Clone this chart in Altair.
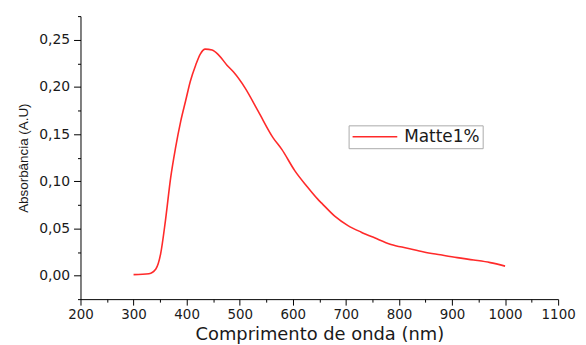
import altair as alt
import pandas as pd

wavelength = [300, 329, 342, 351, 360, 370, 379, 389, 398, 407, 417, 426, 435, 448, 460, 476, 488,
              510, 535, 563, 579, 604, 626, 647, 654, 679, 704, 729, 754, 785, 816, 847, 878, 910,
              941, 972, 1000]
absorb = [0.001, 0.002, 0.007, 0.023, 0.058, 0.104, 0.135, 0.164, 0.185, 0.206, 0.223, 0.235, 0.240,
          0.239, 0.234, 0.223, 0.216, 0.199, 0.174, 0.146, 0.134, 0.111, 0.095, 0.081, 0.077, 0.063,
          0.053, 0.046, 0.040, 0.033, 0.029, 0.025, 0.022, 0.019, 0.0165, 0.0137, 0.0100]
series = ["Matte1%"] * len(wavelength)

x_ticks = list(range(200, 1101, 50))
y_ticks = [round(-0.025 + 0.025 * i, 3) for i in range(13)]

df = pd.DataFrame({"x": wavelength, "y": absorb, "s": series})

FONT = "DejaVu Sans"
RED = "#FF2A2A"

chart = alt.Chart(df).mark_line(color=RED, strokeWidth=1.6, interpolate="monotone").encode(
    x=alt.X("x:Q", scale=alt.Scale(domain=[200, 1100], nice=False, zero=False),
            axis=alt.Axis(title="Comprimento de onda (nm)", values=x_ticks,
                          labelExpr="datum.value % 100 === 0 ? datum.value : ''",
                          tickSize={"condition": {"test": "datum.value % 100 === 0", "value": 6}, "value": 3},
                          grid=False, domainColor="#000", tickColor="#000", labelColor="#1a1a1a",
                          titleColor="#1a1a1a", labelFont=FONT, titleFont=FONT, labelFontSize=13.5,
                          titleFontSize=18, titleFontWeight="normal", labelPadding=2, titlePadding=5,
                          labelFlush=False)),
    y=alt.Y("y:Q", scale=alt.Scale(domain=[-0.025, 0.275], nice=False, zero=False),
            axis=alt.Axis(title="Absorbância (A.U)", values=y_ticks,
                          labelExpr="(abs(datum.value*20 - round(datum.value*20)) < 0.01 && datum.value >= 0) ? replace(format(datum.value, '.2f'), '.', ',') : ''",
                          tickSize={"condition": {"test": "abs(datum.value*20 - round(datum.value*20)) < 0.01", "value": 7}, "value": 3},
                          grid=False, domainColor="#000", tickColor="#000", labelColor="#1a1a1a",
                          titleColor="#1a1a1a", labelFont=FONT, titleFont="Liberation Sans",
                          labelFontSize=14, titleFontSize=13.5, titleFontWeight="normal",
                          labelPadding=4, titlePadding=8, labelFlush=False)),
    color=alt.Color("s:N", scale=alt.Scale(range=[RED]),
                    legend=alt.Legend(title=None, orient="none", legendX=270, legendY=110,
                                      symbolType="stroke", symbolSize=2025, symbolStrokeWidth=1.6,
                                      strokeColor="#aaaaaa", padding=3, labelFont=FONT,
                                      labelFontSize=17, labelColor="#1a1a1a", fillColor="white",
                                      labelOffset=6, clipHeight=17)),
).properties(
    width=481, height=285,
    autosize=alt.AutoSizeParams(type="none"),
    padding={"left": 73, "top": 7, "right": 20, "bottom": 45},
).configure_view(stroke=None)

chart.save("out.html", embed_options={"renderer": "svg", "actions": False})
